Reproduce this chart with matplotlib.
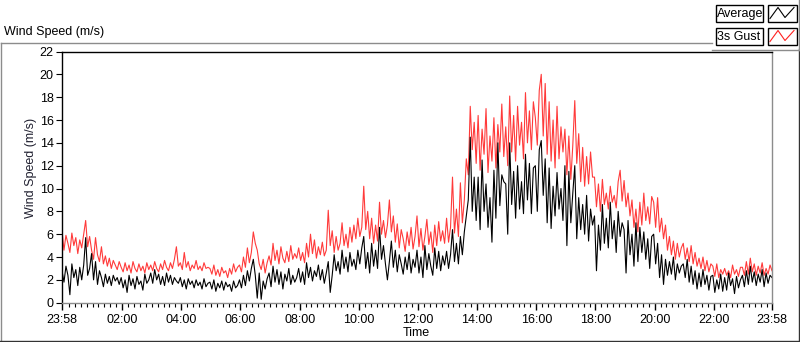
import numpy as np
import matplotlib
matplotlib.use("Agg")
import matplotlib.pyplot as plt
from matplotlib.patches import Rectangle

plt.rcParams['font.family'] = ['Liberation Sans', 'DejaVu Sans']

# 4-minute samples starting at 23:58, one row per hour
gust = [
    6.3, 4.6, 5.9, 5.2, 4.4, 6.1, 5.0, 5.7, 4.3, 5.5, 4.8, 6.0, 7.2, 4.9, 5.8,
    4.6, 3.8, 5.7, 4.2, 3.6, 4.9, 3.4, 4.1, 3.2, 3.9, 3.0, 3.7, 3.3, 2.9, 3.6,
    3.1, 2.7, 3.5, 2.8, 3.3, 2.6, 3.6, 3.0, 2.7, 3.4, 2.8, 3.2, 2.6, 3.5, 2.9,
    3.3, 2.8, 3.6, 3.0, 2.7, 3.4, 2.9, 3.7, 3.1, 2.8, 3.5, 3.0, 3.8, 4.9, 3.2,
    3.5, 2.9, 4.4, 3.1, 3.6, 2.8, 3.3, 3.0, 3.7, 2.9, 3.2, 2.8, 3.5, 3.0, 3.1,
    3.0, 2.5, 3.3, 2.4, 2.9, 2.3, 3.1, 2.6, 2.8, 2.2, 3.0, 2.5, 3.4, 2.7, 3.1,
    3.3, 2.7, 4.0, 3.1, 4.8, 3.5, 4.4, 6.2, 5.2, 4.6, 3.4, 2.9, 3.8, 2.6, 3.5,
    4.1, 3.3, 5.2, 3.7, 4.6, 3.4, 4.9, 3.9, 3.5, 4.5, 3.6, 5.0, 3.8, 4.3, 3.9,
    4.8, 3.7, 4.4, 3.5, 5.2, 4.0, 6.0, 4.3, 5.5, 3.9, 4.9, 4.2, 5.3, 4.1, 4.6,
    8.1, 5.0, 6.3, 4.4, 5.8, 4.6, 5.2, 7.0, 5.0, 6.0, 4.8, 6.6, 5.3, 6.8, 5.6,
    7.4, 5.8, 6.6, 10.2, 6.4, 8.0, 5.6, 7.4, 5.2, 6.8, 5.4, 8.8, 6.0, 7.2, 5.7,
    6.8, 9.0, 6.2, 7.6, 5.3, 6.9, 4.8, 6.4, 5.6, 4.5, 6.2, 5.0, 6.6, 4.7, 5.8,
    7.6, 4.9, 6.5, 4.6, 5.8, 7.3, 5.1, 6.2, 4.4, 6.8, 5.0, 7.1, 5.4, 6.3, 5.2,
    7.4, 5.3, 6.6, 11.0, 6.1, 8.2, 5.8, 10.5, 7.0, 9.0, 12.6, 11.2, 17.2, 13.4, 15.8,
    12.2, 16.4, 11.6, 15.2, 13.0, 17.0, 11.4, 14.6, 12.4, 16.2, 11.8, 15.6, 13.2, 17.4, 12.8,
    15.4, 12.0, 18.1, 13.2, 16.4, 12.4, 17.2, 13.8, 15.8, 12.6, 18.4, 14.0, 16.8, 13.4, 17.6,
    16.2, 13.8, 18.6, 20.0, 14.6, 19.2, 13.0, 17.6, 12.4, 16.0, 11.8, 17.2, 12.6, 15.4, 13.2,
    15.2, 11.2, 14.6, 10.8, 13.8, 17.7, 12.2, 14.8, 10.6, 13.6, 10.2, 12.8, 10.4, 13.2, 11.0,
    11.0, 8.4, 10.4, 8.0, 10.8, 8.6, 9.6, 8.2, 10.2, 8.8, 9.4, 8.3, 10.6, 11.6, 8.9,
    10.7, 8.4, 9.6, 7.6, 9.0, 6.6, 8.2, 6.2, 8.8, 6.8, 9.6, 7.2, 8.4, 6.9, 9.3,
    8.8, 6.6, 9.2, 6.2, 7.4, 5.6, 6.8, 4.6, 5.8, 4.2, 5.4, 3.8, 5.2, 4.0, 4.8,
    5.2, 3.8, 4.8, 3.6, 5.0, 3.4, 4.4, 3.2, 3.9, 3.0, 4.0, 2.8, 3.7, 2.7, 3.4,
    3.2, 2.3, 3.4, 2.2, 2.9, 2.5, 3.0, 2.4, 2.8, 2.2, 3.3, 2.5, 2.9, 2.3, 3.1,
    3.1, 2.4, 3.6, 2.5, 3.9, 2.7, 3.4, 2.4, 3.2, 2.6, 3.5, 2.4, 3.0, 2.5, 3.3, 2.8,
]

average = [
    2.8, 1.8, 3.2, 2.4, 0.7, 3.4, 2.2, 2.9, 1.5, 3.1, 2.0, 3.3, 5.7, 2.4, 3.0,
    4.3, 2.0, 3.6, 1.6, 2.8, 2.2, 1.4, 2.5, 1.7, 2.3, 1.5, 2.4, 1.9, 2.2, 1.6,
    2.2, 1.3, 2.0, 0.9, 2.4, 1.5, 2.1, 1.2, 2.3, 1.6, 1.9, 1.1, 2.5, 1.7, 2.0,
    2.6, 1.7, 2.9, 2.0, 2.5, 1.6, 2.3, 1.5, 2.6, 1.8, 2.4, 1.6, 2.2, 1.9, 1.7,
    2.2, 1.4, 2.0, 1.2, 2.1, 1.6, 1.9, 1.3, 2.0, 1.5, 1.8, 1.2, 2.1, 1.4, 1.7,
    1.8, 1.2, 2.0, 1.0, 1.7, 1.3, 1.9, 1.1, 1.8, 1.4, 1.6, 1.0, 1.9, 1.3, 1.5,
    2.0, 1.3, 2.4, 1.5, 2.8, 1.9, 3.0, 3.8, 2.4, 0.4, 2.6, 0.3, 1.9, 1.2, 2.1,
    2.6, 1.4, 3.2, 1.8, 2.9, 1.6, 2.7, 1.2, 2.5, 1.9, 3.0, 1.6, 2.4, 1.8, 2.2,
    3.0, 1.8, 2.7, 1.6, 3.5, 2.2, 3.1, 1.9, 2.8, 2.3, 3.3, 2.0, 2.9, 1.7, 2.6,
    3.6, 0.9, 2.4, 4.2, 2.8, 3.6, 2.5, 4.6, 3.0, 4.0, 2.7, 4.4, 3.2, 3.8, 2.9,
    4.6, 3.4, 4.8, 5.8, 3.0, 4.4, 2.6, 5.2, 3.2, 4.6, 3.0, 6.6, 3.8, 5.0, 3.4,
    2.0, 3.6, 5.4, 3.1, 4.6, 2.7, 4.2, 3.4, 2.5, 4.0, 2.9, 4.4, 2.6, 3.8, 3.1,
    4.6, 2.6, 4.0, 2.2, 5.0, 2.9, 4.3, 3.2, 2.4, 4.8, 3.0, 4.5, 2.8, 4.1, 3.3,
    4.5, 3.0, 4.2, 6.4, 3.6, 5.2, 3.4, 5.8, 4.2, 6.2, 7.6, 9.0, 14.5, 8.0, 11.0,
    7.2, 11.0, 6.4, 12.5, 8.0, 10.4, 6.6, 9.2, 5.3, 11.6, 7.4, 14.0, 8.5, 11.2, 10.6,
    10.4, 6.0, 14.0, 8.6, 11.5, 7.4, 12.0, 8.2, 10.6, 7.8, 13.0, 9.0, 12.2, 7.8, 11.8,
    12.0, 8.0, 13.4, 14.2, 9.4, 12.6, 7.0, 11.8, 6.5, 10.2, 7.6, 11.4, 8.2, 10.0, 7.2,
    12.0, 5.0, 11.5, 7.0, 9.6, 12.0, 5.6, 9.2, 6.4, 8.6, 6.0, 9.4, 5.4, 8.2, 6.8,
    7.6, 2.8, 6.8, 4.6, 8.6, 5.2, 7.4, 4.8, 8.8, 5.6, 7.2, 4.4, 8.0, 5.8, 7.0,
    6.4, 2.6, 7.2, 4.2, 6.0, 3.2, 7.0, 3.6, 6.6, 4.4, 6.2, 3.8, 5.6, 3.0, 5.8,
    6.0, 3.4, 5.2, 2.2, 4.2, 1.6, 3.8, 2.4, 3.6, 2.5, 4.0, 2.0, 3.4, 2.6, 3.2,
    3.4, 2.2, 3.8, 1.8, 3.2, 1.6, 2.8, 1.2, 2.6, 1.4, 2.9, 1.6, 2.4, 1.1, 2.3,
    2.4, 0.9, 2.0, 1.2, 2.5, 1.0, 2.2, 1.1, 2.6, 1.5, 2.1, 0.8, 2.3, 1.3, 2.0,
    2.4, 1.4, 2.8, 1.6, 3.2, 1.8, 2.7, 1.5, 2.5, 1.8, 2.9, 1.4, 2.6, 1.7, 2.4, 2.2,
]

tick_labels = ['23:58', '02:00', '04:00', '06:00', '08:00', '10:00', '12:00',
               '14:00', '16:00', '18:00', '20:00', '22:00', '23:58']

hours = np.arange(len(gust)) * (4 / 60)   # hours since 23:58
offset = 2 / 60                           # 23:58 -> 00:00

W, H = 800, 342
fig = plt.figure(figsize=(W / 100, H / 100), dpi=100)

# background layer in pixel coordinates
bg = fig.add_axes([0, 0, 1, 1])
bg.set_xlim(0, W)
bg.set_ylim(H, 0)
bg.axis('off')
grey = '#8c8c8c'
bg.plot([0.5, 712], [42.5, 42.5], color=grey, lw=1)
bg.plot([0.5, 0.5], [42.5, 340.5], color=grey, lw=1)
bg.plot([0, 799], [340.5, 340.5], color='#333333', lw=1)
bg.plot([798.5, 798.5], [49, 340.5], color='#333333', lw=1)
bg.plot([712, 798.5], [49.5, 49.5], color=grey, lw=1)
bg.plot([798.5, 798.5], [0, 49.5], color=grey, lw=1)
bg.text(4, 32, 'Wind Speed (m/s)', fontsize=9, va='center', ha='left')
bg.text(31, 168, 'Wind Speed (m/s)', fontsize=9, va='center', ha='center',
        rotation=90, color='#202030')
bg.text(416, 333, 'Time', fontsize=9, va='center', ha='center')

# legend boxes
for y0, name, col in [(4.5, 'Average', 'black'), (27.5, '3s Gust', '#ff2020')]:
    bg.add_patch(Rectangle((715.5, y0), 47, 17, fill=False, ec='black', lw=1))
    bg.add_patch(Rectangle((767.5, y0), 29, 17, fill=False, ec='black', lw=1))
    bg.text(717, y0 + 9, name, fontsize=9, va='center', ha='left')
    bg.plot([770, 778, 785, 794], [y0 + 14, y0 + 3, y0 + 13, y0 + 3], color=col, lw=0.8)

ax = fig.add_axes([62 / W, 1 - 302.7 / H, (772 - 62) / W, (302.7 - 51.5) / H])
ax.plot(hours, gust, color='#ff3a3a', lw=0.8)
ax.plot(hours, average, color='black', lw=0.8)

ax.set_xlim(0, 24)
ax.set_ylim(0, 22)
ax.set_yticks(np.arange(0, 23, 2))
majors = [0] + [2 * k + offset for k in range(1, 12)] + [24]
ax.set_xticks(majors)
ax.set_xticklabels(tick_labels)
minors = np.arange(offset + 0.2, 24, 0.2)
ax.set_xticks(minors, minor=True)

ax.tick_params(axis='y', direction='out', length=4, pad=2, labelsize=9, width=0.8)
ax.tick_params(axis='x', which='major', direction='out', length=5, pad=3, labelsize=9, width=1)
ax.tick_params(axis='x', which='minor', direction='out', length=3, width=0.8)
for s in ['top', 'left']:
    ax.spines[s].set_color('black')
for s in ['right', 'bottom']:
    ax.spines[s].set_color(grey)
for s in ax.spines.values():
    s.set_linewidth(1)

fig.savefig('out.png', dpi=100)
